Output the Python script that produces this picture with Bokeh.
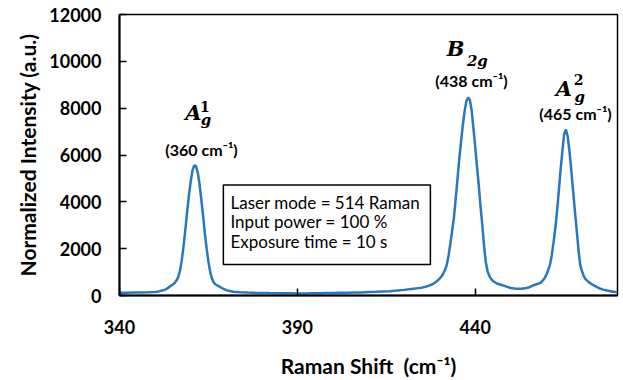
from bokeh.plotting import figure
from bokeh.models import Range1d, FixedTicker, Label, BoxAnnotation
from bokeh.embed import file_html
from bokeh.resources import INLINE

# ---- data ----
raman_shift = [
    340, 342, 344, 346, 348, 350, 351, 352, 353, 353.5, 354, 354.5, 355, 355.5,
    356, 356.5, 357, 357.5, 358, 358.5, 359, 359.5, 360, 360.5, 361, 361.5,
    362, 362.5, 363, 363.5, 364, 364.5, 365, 365.5, 366, 366.5, 367, 368, 369,
    370, 371, 372, 374, 376, 378, 380, 382, 384, 386, 388, 390, 392, 394, 396,
    398, 400, 402, 404, 406, 408, 410, 412, 414, 416, 418, 420, 422, 424, 425,
    426, 427, 428, 429, 430, 430.5, 431, 431.5, 432, 432.5, 433, 433.5, 434,
    434.5, 435, 435.5, 436, 436.5, 437, 437.5, 438, 438.5, 439, 439.5, 440,
    440.5, 441, 441.5, 442, 442.5, 443, 443.5, 444, 444.5, 445, 446, 447, 448,
    449, 450, 451, 452, 453, 454, 455, 456, 457, 458, 458.5, 459, 459.5, 460,
    460.5, 461, 461.5, 462, 462.5, 463, 463.5, 464, 464.5, 465, 465.5, 466,
    466.5, 467, 467.5, 468, 468.5, 469, 469.5, 470, 470.5, 471, 472, 473, 474,
    475, 476, 477, 478, 479, 480,
]
intensity = [
    115, 118, 125, 128, 135, 150, 175, 210, 260, 300, 370, 420, 470, 530,
    640, 780, 1050, 1500, 2100, 2800, 3550, 4250, 4850, 5330, 5560, 5530,
    5250, 4750, 4100, 3400, 2650, 2000, 1450, 1000, 720, 560, 470, 390, 300,
    230, 190, 160, 135, 125, 118, 112, 105, 100, 98, 100, 90, 88, 95, 100,
    105, 108, 115, 118, 125, 130, 145, 155, 170, 185, 210, 240, 275, 315, 335,
    370, 420, 480, 580, 720, 810, 930, 1100, 1300, 1700, 2200, 2750, 3300,
    4100, 4950, 5800, 6550, 7250, 7850, 8300, 8455, 8350, 7900, 7150, 6350,
    5500, 4700, 3800, 3000, 2100, 1400, 1020, 830, 700, 620, 520, 470, 420,
    370, 320, 295, 285, 290, 305, 340, 410, 470, 520, 560, 640, 740, 880,
    1080, 1300, 1700, 2250, 2850, 3590, 4470, 5360, 6150, 6900, 7090, 6800,
    6150, 5360, 4500, 3650, 2850, 2000, 1320, 1050, 830, 700, 560, 460, 380,
    300, 250, 210, 185, 160, 140,
]
x_ticks = [340, 390, 440]
y_ticks = [0, 2000, 4000, 6000, 8000, 10000, 12000]
peak_labels = ["(360 cm\u207b\u00b9)", "(438 cm\u207b\u00b9)", "(465 cm\u207b\u00b9)"]
info_lines = ["Laser mode = 514 Raman", "Input power = 100 %", "Exposure time = 10 s"]

p = figure(width=623, height=380, output_backend="svg", toolbar_location=None,
           x_range=Range1d(340, 480), y_range=Range1d(0, 12000),
           min_border_left=119, min_border_right=6, min_border_top=14,
           min_border_bottom=84)
p.grid.visible = False
p.outline_line_color = "black"
p.outline_line_width = 1.5
p.background_fill_color = "white"
p.border_fill_color = "white"

p.line(raman_shift, intensity, line_color="#2878BD", line_width=2.5)

for ax in (p.xaxis[0], p.yaxis[0]):
    ax.axis_line_color = "black"
    ax.axis_line_width = 2
    ax.major_tick_line_color = "black"
    ax.major_tick_line_width = 1.5
    ax.major_tick_in = 7
    ax.major_tick_out = 0
    ax.minor_tick_line_color = None
    ax.major_label_text_font = "Lato"
    ax.major_label_text_font_style = "bold"
    ax.major_label_text_font_size = "18px"
    ax.major_label_text_color = "black"
    ax.axis_label_text_font = "Lato"
    ax.axis_label_text_font_style = "bold"
    ax.axis_label_text_font_size = "21px"
    ax.axis_label_text_color = "black"

p.xaxis.ticker = FixedTicker(ticks=x_ticks)
p.yaxis.ticker = FixedTicker(ticks=y_ticks)
p.xaxis.major_label_standoff = 24
p.yaxis.major_label_standoff = 18
p.xaxis.axis_label = "Raman Shift\u00a0\u00a0(cm\u207b\u00b9)"
p.yaxis.axis_label = "Normalized Intensity (a.u.)"
p.xaxis.axis_label_standoff = 16
p.yaxis.axis_label_standoff = 6

def lab(x, y, text, size, font="Lato", style="bold", align="center"):
    p.add_layout(Label(x=x, y=y, text=text, text_font=font, text_font_style=style,
                       text_font_size=size, text_color="black", text_align=align,
                       text_baseline="middle"))

serif = "DejaVu Serif"
# A_g^1
lab(360.8, 7829, "A", "21px", serif, "bold italic")
lab(364.0, 8080, "1", "14px", serif, "bold")
lab(364.3, 7490, "g", "15px", serif, "bold italic")
lab(363.05, 6220, peak_labels[0], "16px")
# B_2g
lab(434.5, 10531, "B", "21px", serif, "bold italic")
lab(440.6, 10000, "2g", "15px", serif, "bold italic")
lab(438.96, 9191, peak_labels[1], "16px")
# A_g^2
lab(464.9, 8830, "A", "21px", serif, "bold italic")
lab(469.1, 9210, "2", "14px", serif, "bold")
lab(469.4, 8490, "g", "15px", serif, "bold italic")
lab(468.2, 7760, peak_labels[2], "16px")

# info box
p.add_layout(BoxAnnotation(left=369.2, right=427.4, bottom=1319, top=4723,
                           fill_color="white", fill_alpha=1.0,
                           line_color="black", line_alpha=1.0, line_width=1.5))
for yv, t in zip([3957, 3149, 2298], info_lines):
    lab(371.2, yv, t, "17px", "Lato", "normal", "left")

open("out.html", "w").write(file_html(p, INLINE))
